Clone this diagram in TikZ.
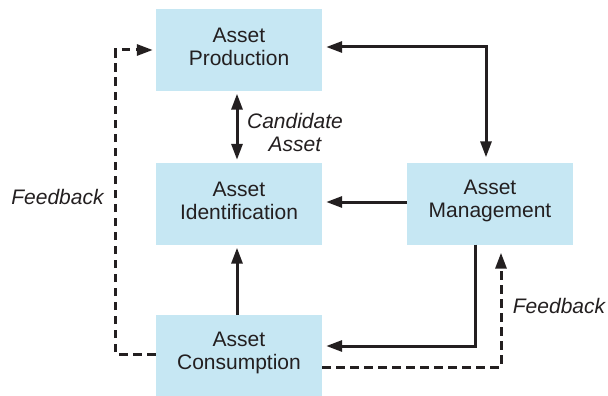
\documentclass[tikz,border=0pt]{standalone}
\usepackage{fontspec}
\setmainfont{Liberation Sans}
\usetikzlibrary{arrows.meta}
\definecolor{boxblue}{HTML}{C6E7F3}
\definecolor{ink}{HTML}{231F20}
\begin{document}
\begin{tikzpicture}[x=1pt,y=-1pt,
  box/.style={fill=boxblue, inner sep=0pt, minimum width=166pt, minimum height=82pt,
    label={[yshift=3pt, align=center, font=\fontsize{21}{23}\selectfont, text=ink]center:#1}},
  conn/.style={draw=ink, line width=3pt, arrows={-Triangle[length=16pt,width=11pt]}},
  bconn/.style={draw=ink, line width=3pt, arrows={Triangle[length=16pt,width=11pt]-Triangle[length=16pt,width=11pt]}},
  dsh/.style={draw=ink, line width=3pt, dash pattern=on 8.5pt off 5.5pt, arrows={-Triangle[length=16pt,width=11pt]}},
  lbl/.style={font=\fontsize{21}{23}\selectfont\itshape, text=ink, inner sep=0pt}]
\useasboundingbox (0,0) rectangle (608,396);
\node[box={Asset\\Production}] (prod) at (239,50) {};
\node[box={Asset\\Identification}] (ident) at (239,203.5) {};
\node[box={Asset\\Management}] (mgmt) at (490,203.5) {};
\node[box={Asset\\Consumption}, minimum height=81pt] (cons) at (239,355.5) {};

\draw[bconn, shorten <=2.5pt, shorten >=2.5pt] ([xshift=-2pt]prod.south) -- ([xshift=-2pt]ident.north);
\draw[bconn, shorten <=4pt, shorten >=5pt] ([yshift=3pt]prod.east) -| ([xshift=-4pt]mgmt.north);
\draw[conn, shorten >=4pt] ([yshift=1.5pt]mgmt.west) -- ([yshift=1.5pt]ident.east);
\draw[conn, shorten >=3pt] ([xshift=-2pt]cons.north) -- ([xshift=-2pt]ident.south);
\draw[conn, shorten >=4pt] ([xshift=-15pt]mgmt.south) |- ([yshift=9.5pt]cons.east);
\draw[dsh, shorten >=8pt] ([yshift=-11.5pt]cons.east) -| ([xshift=11pt]mgmt.south);
\draw[dsh, shorten >=3pt] ([yshift=1.5pt]cons.west) -- ++(-40,0) |- (prod.west);

\node[lbl, align=center] (cand) at (295,132) {Candidate\\Asset};
\node[lbl] (fbl) at (57.5,197) {Feedback};
\node[lbl] (fbr) at (559,306) {Feedback};
\end{tikzpicture}
\end{document}
